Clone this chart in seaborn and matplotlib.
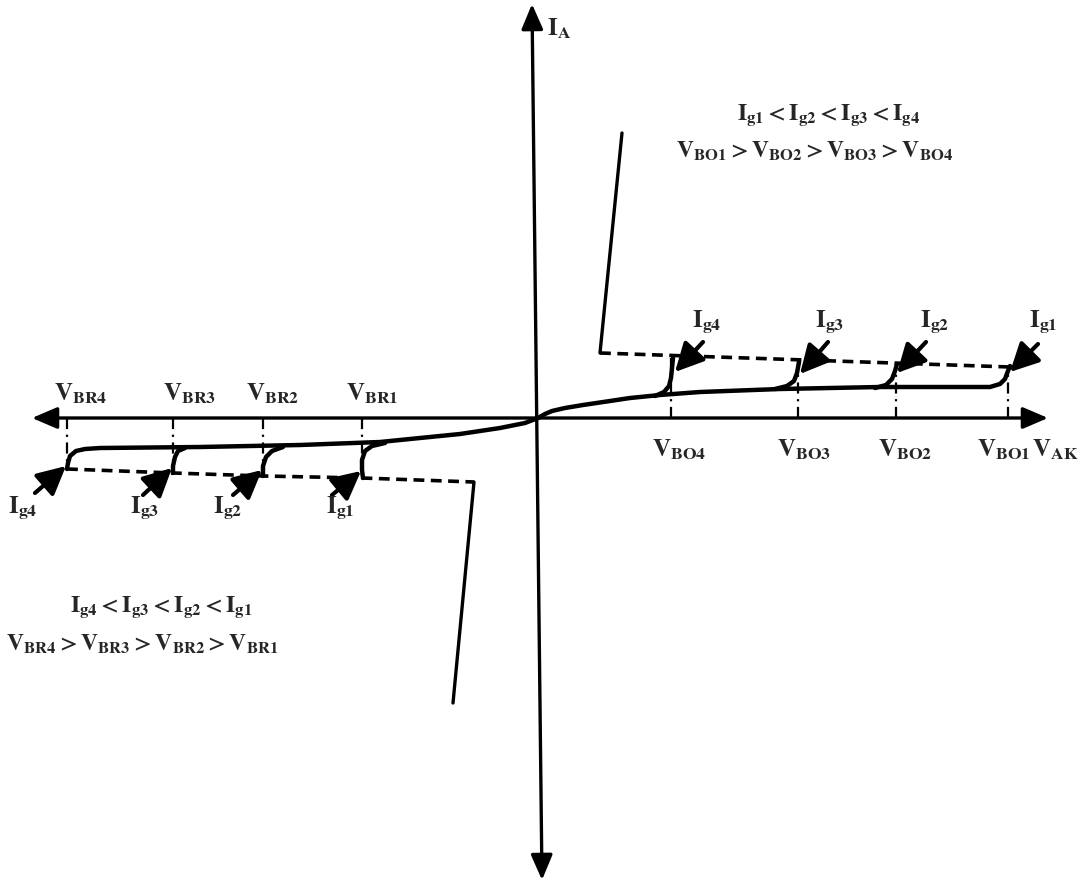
import matplotlib
matplotlib.use("Agg")
import matplotlib.pyplot as plt
import numpy as np
import pandas as pd
import seaborn as sns

# ---------------- data (pixel-like units, y downwards) ----------
# forward blocking characteristic (1st quadrant) ending at Ig1 knee
fwd_x = [538, 545, 552, 565, 583, 610, 630, 660, 700, 780, 880, 950, 990, 1000, 1005, 1008, 1010]
fwd_y = [418, 414, 411, 408, 405, 401, 398, 395, 392, 389, 387, 387, 387, 384, 379, 371, 366]
# knees for larger gate currents (forward)
knee4_x = [655, 664, 669, 671, 672, 673]
knee4_y = [396, 392, 386, 378, 368, 358]
knee3_x = [775, 787, 794, 797, 799]
knee3_y = [389, 386, 381, 373, 362]
knee2_x = [875, 886, 892, 895, 897]
knee2_y = [388, 385, 379, 371, 364]
# on-state dashed line and conduction line (forward)
fwd_dash_x = [600, 1010]
fwd_dash_y = [353, 367]
fwd_on_x = [622, 600]
fwd_on_y = [133, 353]

# reverse characteristic (3rd quadrant) ending at Ig4 knee
rev_x = [538, 525, 500, 460, 420, 380, 300, 200, 100, 85, 76, 70, 68, 67]
rev_y = [418, 423, 428, 434, 438, 442, 445, 447, 448, 449, 451, 456, 463, 469]
rknee1_x = [385, 372, 365, 362, 362, 363]
rknee1_y = [443, 446, 451, 460, 470, 478]
rknee2_x = [283, 272, 266, 263, 263]
rknee2_y = [447, 451, 457, 466, 476]
rknee3_x = [185, 178, 175, 173, 173]
rknee3_y = [448, 451, 457, 466, 473]
rev_dash_x = [67, 173, 263, 362, 474]
rev_dash_y = [469, 473, 476, 478, 482]
rev_on_x = [474, 453]
rev_on_y = [482, 703]

# break-over / breakdown voltages (x positions) and their knee heights
vbo_x = [1008, 896, 798, 671]
vbo_top = [367, 364, 362, 357]
vbr_x = [362, 263, 173, 67]
vbr_bot = [476, 474, 470, 466]

vbo_labels = [r"$\mathbf{V}_{\mathbf{BO1}}$", r"$\mathbf{V}_{\mathbf{BO2}}$",
              r"$\mathbf{V}_{\mathbf{BO3}}$", r"$\mathbf{V}_{\mathbf{BO4}}$"]
vbr_labels = [r"$\mathbf{V}_{\mathbf{BR1}}$", r"$\mathbf{V}_{\mathbf{BR2}}$",
              r"$\mathbf{V}_{\mathbf{BR3}}$", r"$\mathbf{V}_{\mathbf{BR4}}$"]
ig_labels = [r"$\mathbf{I}_{\mathbf{g1}}$", r"$\mathbf{I}_{\mathbf{g2}}$",
             r"$\mathbf{I}_{\mathbf{g3}}$", r"$\mathbf{I}_{\mathbf{g4}}$"]

# arrows (tail -> head) pointing at knees
fwd_arrow_tail = [(1038, 344), (926, 342), (828, 342), (703, 342)]
fwd_arrow_head = [(1010, 372), (897, 373), (800, 374), (675, 372)]
rev_arrow_tail = [(332, 495), (233, 495), (143, 495), (35, 493)]
rev_arrow_head = [(361, 471), (262, 470), (172, 468), (66, 466)]

# label positions
vbo_lab_pos = [(1004, 450), (905, 450), (804, 450), (679, 450)]
vbr_lab_pos = [(372, 394), (273, 394), (189, 394), (81, 394)]
fwd_ig_pos = [(1043, 322), (935, 322), (830, 322), (707, 322)]
rev_ig_pos = [(340, 508), (228, 508), (145, 508), (23, 508)]

# ---------------- drawing ----------------
sns.set_theme(style="white")
plt.rcParams["mathtext.fontset"] = "stix"
plt.rcParams["font.family"] = ["Liberation Serif", "DejaVu Serif"]

fig = plt.figure(figsize=(10.83, 8.81), dpi=100)
ax = fig.add_axes([0, 0, 1, 1])
ax.set_xlim(0, 1083)
ax.set_ylim(881, 0)
ax.axis("off")

def seg_df(pairs):
    rows = []
    for k, (xs, ys) in enumerate(pairs):
        for x, y in zip(xs, ys):
            rows.append({"x": x, "y": y, "seg": k})
    return pd.DataFrame(rows)

solid = seg_df([(fwd_x, fwd_y), (knee4_x, knee4_y), (knee3_x, knee3_y), (knee2_x, knee2_y),
                (rev_x, rev_y), (rknee1_x, rknee1_y), (rknee2_x, rknee2_y), (rknee3_x, rknee3_y)])
sns.lineplot(data=solid, x="x", y="y", units="seg", estimator=None, sort=False,
             color="black", lw=3.2, ax=ax, legend=False)

onlines = seg_df([(fwd_on_x, fwd_on_y), (rev_on_x, rev_on_y)])
sns.lineplot(data=onlines, x="x", y="y", units="seg", estimator=None, sort=False,
             color="black", lw=2.4, ax=ax, legend=False)

dashed = seg_df([(fwd_dash_x, fwd_dash_y), (rev_dash_x, rev_dash_y)])
for k, g in dashed.groupby("seg"):
    ax.plot(g["x"], g["y"], color="black", lw=2.6, dashes=(3.0, 1.8))

# dash-dot verticals
axis_y = 418
for x, t in zip(vbo_x, vbo_top):
    ax.plot([x, x], [axis_y, t], color="black", lw=1.6, dashes=(5, 2.5, 1, 2.5))
for x, b in zip(vbr_x, vbr_bot):
    ax.plot([x, x], [axis_y, b], color="black", lw=1.6, dashes=(5, 2.5, 1, 2.5))

# main axes as arrows
ax.annotate("", xy=(1048, axis_y), xytext=(32, axis_y),
            arrowprops=dict(arrowstyle="<|-|>,head_length=0.7,head_width=0.3",
                            mutation_scale=22, lw=2.4, color="black",
                            shrinkA=0, shrinkB=0))
ax.annotate("", xy=(532, 4), xytext=(542, 880),
            arrowprops=dict(arrowstyle="<|-|>,head_length=0.7,head_width=0.3",
                            mutation_scale=22, lw=2.4, color="black",
                            shrinkA=0, shrinkB=0))

# gate-current arrows
for t, h in list(zip(fwd_arrow_tail, fwd_arrow_head)) + list(zip(rev_arrow_tail, rev_arrow_head)):
    ax.annotate("", xy=h, xytext=t,
                arrowprops=dict(arrowstyle="-|>,head_length=0.75,head_width=0.38",
                                mutation_scale=23, lw=3.0, color="black",
                                shrinkA=0, shrinkB=0))

fs = 18
for (x, y), s in zip(vbo_lab_pos, vbo_labels):
    ax.text(x, y, s, fontsize=fs, ha="center", va="center")
for (x, y), s in zip(vbr_lab_pos, vbr_labels):
    ax.text(x, y, s, fontsize=fs, ha="center", va="center")
for (x, y), s in zip(fwd_ig_pos, ig_labels):
    ax.text(x, y, s, fontsize=fs, ha="center", va="center")
for (x, y), s in zip(rev_ig_pos, ig_labels):
    ax.text(x, y, s, fontsize=fs, ha="center", va="center")

ax.text(1055, 450, r"$\mathbf{V}_{\mathbf{AK}}$", fontsize=fs, ha="center", va="center")
ax.text(559, 29, r"$\mathbf{I}_{\mathbf{A}}$", fontsize=fs, ha="center", va="center")

fs2 = 17
ax.text(828, 115, r"$\mathbf{I}_{\mathbf{g1}}\mathbf{<I}_{\mathbf{g2}}\mathbf{<I}_{\mathbf{g3}}\mathbf{<I}_{\mathbf{g4}}$",
        fontsize=fs2, ha="center", va="center")
ax.text(814, 151, r"$\mathbf{V}_{\mathbf{BO1}}\mathbf{>V}_{\mathbf{BO2}}\mathbf{>V}_{\mathbf{BO3}}\mathbf{>V}_{\mathbf{BO4}}$",
        fontsize=fs2, ha="center", va="center")
ax.text(161, 607, r"$\mathbf{I}_{\mathbf{g4}}\mathbf{<I}_{\mathbf{g3}}\mathbf{<I}_{\mathbf{g2}}\mathbf{<I}_{\mathbf{g1}}$",
        fontsize=fs2, ha="center", va="center")
ax.text(142, 644, r"$\mathbf{V}_{\mathbf{BR4}}\mathbf{>V}_{\mathbf{BR3}}\mathbf{>V}_{\mathbf{BR2}}\mathbf{>V}_{\mathbf{BR1}}$",
        fontsize=fs2, ha="center", va="center")

fig.savefig("out.png", dpi=100, facecolor="white")
